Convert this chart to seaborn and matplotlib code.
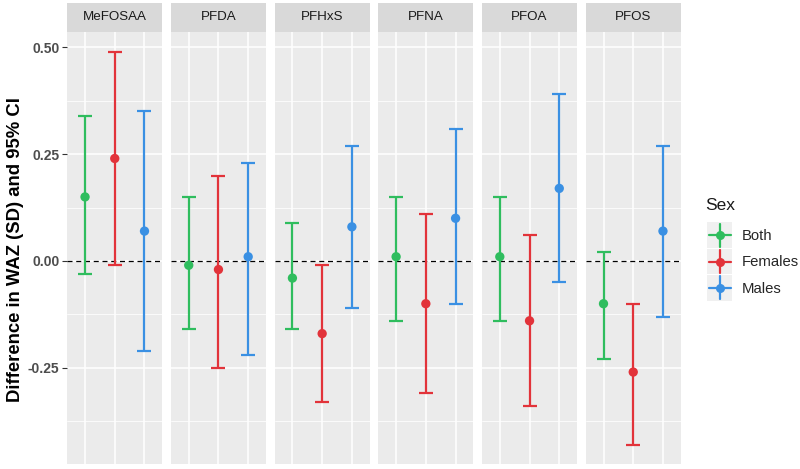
import numpy as np
import pandas as pd
import matplotlib
matplotlib.use("Agg")
import matplotlib.pyplot as plt
import seaborn as sns
from matplotlib.patches import Rectangle
from matplotlib.lines import Line2D

# ---------------------------------------------------------------
# data
# ---------------------------------------------------------------
chemicals = ["MeFOSAA", "PFDA", "PFHxS", "PFNA", "PFOA", "PFOS"]
sexes = ["Both", "Females", "Males"]

est_both = [0.15, -0.01, -0.04, 0.01, 0.01, -0.10]
lo_both = [-0.03, -0.16, -0.16, -0.14, -0.14, -0.23]
hi_both = [0.34, 0.15, 0.09, 0.15, 0.15, 0.02]

est_fem = [0.24, -0.02, -0.17, -0.10, -0.14, -0.26]
lo_fem = [-0.01, -0.25, -0.33, -0.31, -0.34, -0.43]
hi_fem = [0.49, 0.20, -0.01, 0.11, 0.06, -0.10]

est_male = [0.07, 0.01, 0.08, 0.10, 0.17, 0.07]
lo_male = [-0.21, -0.22, -0.11, -0.10, -0.05, -0.13]
hi_male = [0.35, 0.23, 0.27, 0.31, 0.39, 0.27]

y_ticks = [-0.25, 0.00, 0.25, 0.50]
y_minor = [-0.375, -0.125, 0.125, 0.375]

rows = []
for sex, est, lo, hi in zip(sexes, [est_both, est_fem, est_male],
                            [lo_both, lo_fem, lo_male],
                            [hi_both, hi_fem, hi_male]):
    for chem, e, l, h in zip(chemicals, est, lo, hi):
        rows.append({"Chemical": chem, "Sex": sex, "est": e, "lo": l, "hi": h})
df = pd.DataFrame(rows)

palette = {"Both": "#2FBD5E", "Females": "#E2333A", "Males": "#3A90E3"}


# ggplot-like legend key: grey box, horizontal + vertical stroke, dot in the middle
class KeyHandler:
    def legend_artist(self, legend, orig_handle, fontsize, handlebox):
        x0, y0 = -handlebox.xdescent, -handlebox.ydescent
        w, h = handlebox.width, handlebox.height
        c = orig_handle.get_color()
        tr = handlebox.get_transform()
        bg = Rectangle((x0, y0), w, h, facecolor="#F0F0F0", edgecolor="none",
                       transform=tr)
        cx, cy = x0 + w / 2, y0 + h / 2
        hl = Line2D([x0 + 1, x0 + w - 1], [cy, cy], color=c, linewidth=1.6, transform=tr)
        vl = Line2D([cx, cx], [y0 + 1, y0 + h - 1], color=c, linewidth=1.6, transform=tr)
        dot = Line2D([cx], [cy], color=c, marker="o", markersize=6.5,
                     markeredgewidth=0, linestyle="none", transform=tr)
        for a in (bg, hl, vl, dot):
            handlebox.add_artist(a)
        return bg


# ---------------------------------------------------------------
# plot
# ---------------------------------------------------------------
sns.set_theme(style="darkgrid", rc={
    "axes.facecolor": "#EBEBEB",
    "grid.color": "white",
})
plt.rcParams["font.family"] = ["Liberation Sans", "DejaVu Sans"]

fig, axes = plt.subplots(1, 6, figsize=(8, 4.69), dpi=100, sharey=True)
fig.subplots_adjust(left=0.084, right=0.851, bottom=0.0107, top=0.9324, wspace=0.09)

strip_h = 28.7 / 432.3

for ax, chem in zip(axes, chemicals):
    sub = df[df["Chemical"] == chem].reset_index(drop=True)
    for i, r in sub.iterrows():
        ax.errorbar(i, r["est"], yerr=[[r["est"] - r["lo"]], [r["hi"] - r["est"]]],
                    fmt="none", ecolor=palette[r["Sex"]], elinewidth=1.6,
                    capsize=4.7, capthick=1.6, zorder=3)
    sns.scatterplot(data=sub, x=sub.index, y="est", hue="Sex", palette=palette,
                    s=45, edgecolor="none", legend=False, ax=ax, zorder=4)
    ax.axhline(0, color="black", linestyle=(0, (4, 3)), linewidth=0.9, zorder=2)

    ax.set_xlim(-0.6, 2.6)
    ax.set_ylim(-0.4752, 0.5368)
    ax.set_xticks([0, 1, 2])
    ax.set_xticklabels([])
    ax.set_yticks(y_ticks)
    ax.set_yticks(y_minor, minor=True)
    ax.grid(which="major", color="white", linewidth=1.1)
    ax.grid(which="minor", axis="y", color="white", linewidth=0.55)
    ax.tick_params(axis="x", length=0)
    ax.tick_params(axis="y", which="minor", length=0)
    ax.set_xlabel("")
    ax.set_ylabel("")
    for s in ax.spines.values():
        s.set_visible(False)

    # facet strip
    ax.add_patch(Rectangle((0, 1), 1, strip_h, transform=ax.transAxes,
                           facecolor="#D9D9D9", edgecolor="none", clip_on=False))
    ax.text(0.5, 1 + strip_h / 2, chem, transform=ax.transAxes, ha="center",
            va="center", fontsize=9.6, color="#1A1A1A")

ax0 = axes[0]
ax0.set_yticklabels([f"{t:.2f}" for t in y_ticks])
ax0.tick_params(axis="y", which="major", length=3.5, width=0.8, color="#333333",
                pad=2, labelsize=10, labelcolor="#4D4D4D", left=True)
for lab in ax0.get_yticklabels():
    lab.set_fontweight("bold")
for ax in axes[1:]:
    ax.tick_params(axis="y", which="major", length=0)

fig.text(0.02, 0.467, "Difference in WAZ (SD) and 95% CI", rotation=90,
         ha="center", va="center", fontsize=13.3, fontweight="bold", color="black")

# legend title drawn separately so its gap to the keys matches ggplot
fig.text(0.881, 1 - 205 / 469, "Sex", ha="left", va="center", fontsize=12.5,
         color="#1A1A1A")
leg_handles = [Line2D([], [], color=palette[s]) for s in sexes]
fig.legend(leg_handles, sexes, loc="center left",
           bbox_to_anchor=(0.884, 1 - 261.5 / 469), frameon=False, fontsize=10.7,
           handlelength=1.68, handleheight=2.31,
           labelspacing=0.03, handletextpad=0.67, borderpad=0, borderaxespad=0,
           handler_map={Line2D: KeyHandler()})

fig.savefig("out.png", dpi=100)
